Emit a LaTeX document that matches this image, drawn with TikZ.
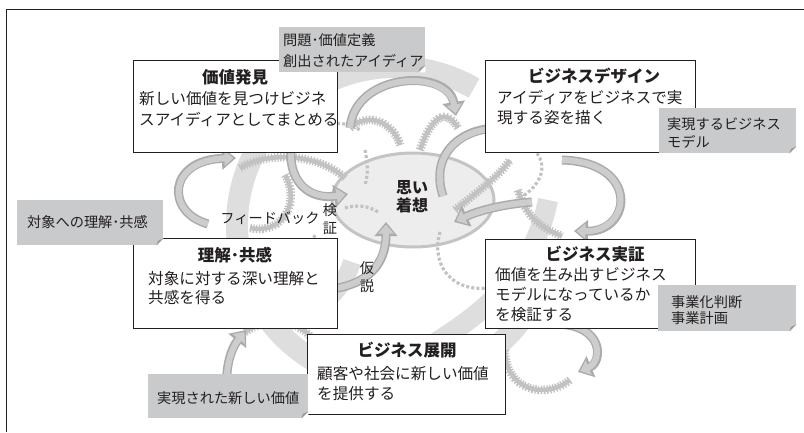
\documentclass[tikz,border=0pt]{standalone}
\usepackage{fontspec}
\setmainfont{Noto Sans CJK JP}
\usetikzlibrary{arrows.meta}
\definecolor{ink}{HTML}{231F20}
\definecolor{ringc}{HTML}{DEDEDE}
\definecolor{arrowedge}{HTML}{ABABAB}
\definecolor{arrowfill}{HTML}{CDCDCD}
\definecolor{tagc}{HTML}{C9CACB}
\definecolor{tagfold}{HTML}{9A9A9A}
\definecolor{dotc}{HTML}{C2C2C2}
\definecolor{ellfill}{HTML}{EDEDED}
\definecolor{elledge}{HTML}{C4C4C4}
\begin{document}
\begin{tikzpicture}[x=1pt,y=-1pt,
  box/.style={draw=ink, line width=1.3pt, fill=white, anchor=north west, inner sep=0pt},
  tagbox/.style={fill=tagc, anchor=north west, inner sep=0pt},
  ttl/.style={font=\fontsize{16.5}{20}\selectfont\bfseries, text=ink, anchor=base, inner sep=0pt},
  body/.style={font=\fontsize{15.6}{20}\selectfont, text=ink, anchor=base west, inner sep=0pt},
  lab/.style={font=\fontsize{14.2}{18}\selectfont, text=ink, anchor=base west, inner sep=0pt},
  small/.style={font=\fontsize{14.2}{18}\selectfont, text=ink, anchor=base, inner sep=0pt},
  ring/.style={draw=ringc, line width=22pt},
  garrow/.style={draw=arrowedge, line width=9pt, -{Triangle[length=14pt,width=22pt]},
    postaction={draw=arrowfill, line width=6pt, shorten >=2.5pt, -{Triangle[length=9pt,width=15pt]}}},
  gear/.style={draw=dotc, line width=4.5pt, postaction={draw=dotc, line width=8.5pt, dash pattern=on 1.4pt off 1.6pt}},
  dotline/.style={draw=dotc, line width=3.2pt, dash pattern=on 3pt off 2.2pt}
]
\useasboundingbox (0,0) rectangle (804,432);
% frame (top and left lines)
\coordinate (fl) at (6,432);
\coordinate (ft) at (6,9);
\coordinate (fr) at (804,9);
\draw[ink, line width=1pt] (fl) -- (ft) -- (fr);

% big background ring
\draw[ring] (395,225) ++(300:158) arc[start angle=300, end angle=25, radius=158];
\draw[ring, line width=20pt] (548,200) .. controls (530,290) and (460,330) .. (385,372);
\draw[ring, line width=18pt] (262,300) .. controls (300,330) and (340,300) .. (352,262);

% central ellipse
\fill[ellfill, draw=elledge, line width=3pt] (413,200) ellipse[x radius=81, y radius=47];

% gears and dotted paths
\path[gear] (240,168) .. controls (270,150) and (320,155) .. (345,178);
\path[gear] (350,128) .. controls (370,110) and (395,125) .. (400,145);
\path[gear] (420,150) .. controls (430,120) and (445,105) .. (458,128);
\path[gear] (455,210) .. controls (480,190) and (500,175) .. (510,160);
\path[gear] (518,190) .. controls (525,215) and (540,228) .. (562,236);
\path[gear] (505,350) .. controls (505,390) and (545,400) .. (570,380);
\path[gear] (245,332) .. controls (265,318) and (295,318) .. (312,338);
\path[gear] (250,228) .. controls (285,235) and (300,200) .. (285,175);
\path[dotline] (365,150) .. controls (368,165) and (368,175) .. (365,185);
\path[dotline] (345,208) .. controls (355,205) and (368,205) .. (378,212);
\path[dotline] (440,232) .. controls (430,268) and (455,292) .. (487,288);
\path[dotline] (515,140) .. controls (550,150) and (550,180) .. (520,198);
\path[dotline] (315,235) .. controls (305,255) and (305,275) .. (308,300);
\path[dotline] (312,345) .. controls (318,360) and (312,375) .. (305,385);
\path[dotline] (300,140) .. controls (320,120) and (345,120) .. (360,130);

% medium gray curved arrows
\draw[garrow] (350,128) .. controls (355,72) and (448,68) .. (456,116);
\draw[garrow] (443,196) .. controls (428,150) and (468,126) .. (512,130);
\draw[garrow] (562,160) .. controls (640,162) and (632,232) .. (574,231);
\draw[garrow] (532,202) .. controls (505,204) and (480,210) .. (454,222);
\draw[garrow] (558,324) .. controls (605,326) and (602,362) .. (578,372);
\draw[garrow] (228,395) .. controls (224,372) and (230,350) .. (246,330);
\draw[garrow] (208,224) .. controls (165,212) and (168,160) .. (236,158);
\draw[garrow] (292,140) .. controls (285,182) and (310,200) .. (348,194);
\draw[garrow] (322,290) .. controls (370,287) and (386,262) .. (386,222);

% main boxes
\node[box, minimum width=204, minimum height=92] (kachi) at (133,60) {};
\node[box, minimum width=210, minimum height=92] (design) at (485,60) {};
\node[box, minimum width=204, minimum height=90] (rikai) at (133,238) {};
\node[box, minimum width=210, minimum height=89] (jissho) at (485,239) {};
\node[box, minimum width=198, minimum height=80] (tenkai) at (307,334) {};

% tags
\node[tagbox, minimum width=146, minimum height=45] (tagA) at (279,27) {};
\node[tagbox, minimum width=137, minimum height=45] (tagB) at (659,108) {};
\node[tagbox, minimum width=146, minimum height=45] (tagC) at (17,200) {};
\node[tagbox, minimum width=138, minimum height=46] (tagD) at (658,285) {};
\node[tagbox, minimum width=160, minimum height=44] (tagE) at (148,374) {};
\foreach \t in {tagA,tagB,tagC,tagD,tagE}{
  \fill[white] (\t.south east) -- ++(-7,0) -- ++(7,-7) -- cycle;
  \fill[tagfold] (\t.south east) ++(0,-7) -- ++(-7,7) -- ++(1.5,-4.5) -- cycle;
}

% texts
\node[ttl] (kachiT) at (235,83.5) {価値発見};
\node[body] (kachi1) at (139,104.5) {新しい価値を見つけビジネ};
\node[body] (kachi2) at (139,125) {スアイディアとしてまとめる};

\node[ttl] (designT) at (594,82.5) {ビジネスデザイン};
\node[body] (design1) at (497,103.5) {アイディアをビジネスで実};
\node[body] (design2) at (497,123.5) {現する姿を描く};

\node[ttl] (rikaiT) at (235,261.5) {理解･共感};
\node[body] (rikai1) at (148,284) {対象に対する深い理解と};
\node[body] (rikai2) at (148,303) {共感を得る};

\node[ttl] (jisshoT) at (595,260.5) {ビジネス実証};
\node[body] (jissho1) at (495,280) {価値を生み出すビジネス};
\node[body] (jissho2) at (495,300) {モデルになっているか};
\node[body] (jissho3) at (495,320) {を検証する};

\node[ttl] (tenkaiT) at (407,356.5) {ビジネス展開};
\node[body] (tenkai1) at (317,379) {顧客や社会に新しい価値};
\node[body] (tenkai2) at (317,399) {を提供する};

\node[lab] (tagA1) at (283,45.5) {問題･価値定義};
\node[lab] (tagA2) at (283,66.5) {創出されたアイディア};
\node[lab] (tagB1) at (667,129.5) {実現するビジネス};
\node[lab] (tagB2) at (667,147.5) {モデル};
\node[lab] (tagC1) at (27,227.5) {対象への理解･共感};
\node[lab] (tagD1) at (671,307.5) {事業化判断};
\node[lab] (tagD2) at (671,323.5) {事業計画};
\node[lab] (tagE1) at (157,403.5) {実現された新しい価値};

\node[small] (fb) at (270,223.5) {フィードバック};
\node[small] (ken) at (330,215.5) {検};
\node[small] (sho) at (330,233.5) {証};
\node[small] (ka) at (367,273.5) {仮};
\node[small] (setsu) at (367,291.5) {説};
\node[ttl, font=\fontsize{16}{20}\selectfont\bfseries] (omoi) at (412,193) {思い};
\node[ttl, font=\fontsize{16}{20}\selectfont\bfseries] (chaku) at (412,211) {着想};
\end{tikzpicture}
\end{document}
